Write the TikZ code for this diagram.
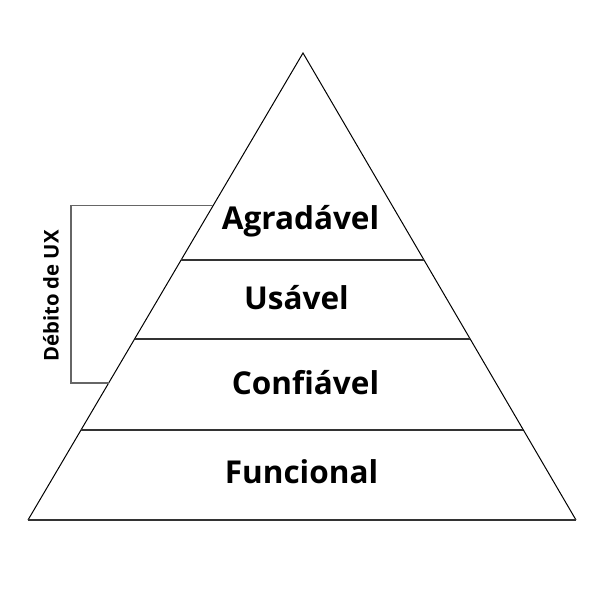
\documentclass[tikz,border=0pt]{standalone}
\usepackage{fontspec}
\setmainfont{Open Sans}
\begin{document}
\begin{tikzpicture}[x=1pt,y=-1pt,
  edge/.style={draw=black,line width=1pt},
  divider/.style={draw=black!80,line width=1.2pt},
  bracket/.style={draw=black!60,line width=1.1pt},
  lvl/.style={font=\fontsize{31.5}{36}\selectfont\bfseries,anchor=base,inner sep=0pt},
  side/.style={font=\fontsize{20.3}{24}\selectfont\bfseries,rotate=90,inner sep=0pt}]
\useasboundingbox (0,0) rectangle (600,600);
\coordinate (apex) at (303,53);
\coordinate (bl) at (28,520);
\coordinate (br) at (576,520);
\draw[edge] (bl) -- (apex) -- (br);
\draw[divider] (bl) -- (br);
% dividers at y=260, 339, 430
\path (apex) -- (bl) coordinate[pos=0.4433] (l1);
\path (apex) -- (br) coordinate[pos=0.4433] (r1);
\path (apex) -- (bl) coordinate[pos=0.6124] (l2);
\path (apex) -- (br) coordinate[pos=0.6124] (r2);
\path (apex) -- (bl) coordinate[pos=0.8073] (l3);
\path (apex) -- (br) coordinate[pos=0.8073] (r3);
\draw[divider] (l1) -- (r1);
\draw[divider] (l2) -- (r2);
\draw[divider] (l3) -- (r3);
% bracket
\path (apex) -- (bl) coordinate[pos=0.3266] (bt);
\path (apex) -- (bl) coordinate[pos=0.7066] (bb);
\coordinate (bcTop) at (71,205.5);
\coordinate (bcBot) at (71,383);
\draw[bracket] (bt |- bcTop) -- (bcTop) -- (bcBot) -- (bb |- bcBot);
\node[lvl] (agr) at (300.5,229.5) {Agradável};
\node[lvl] (usa) at (296.5,309.5) {Usável};
\node[lvl] (con) at (305.5,394) {Confiável};
\node[lvl] (fun) at (301.5,483) {Funcional};
\node[side] (deb) at (51,296) {Débito de UX};
\end{tikzpicture}
\end{document}
